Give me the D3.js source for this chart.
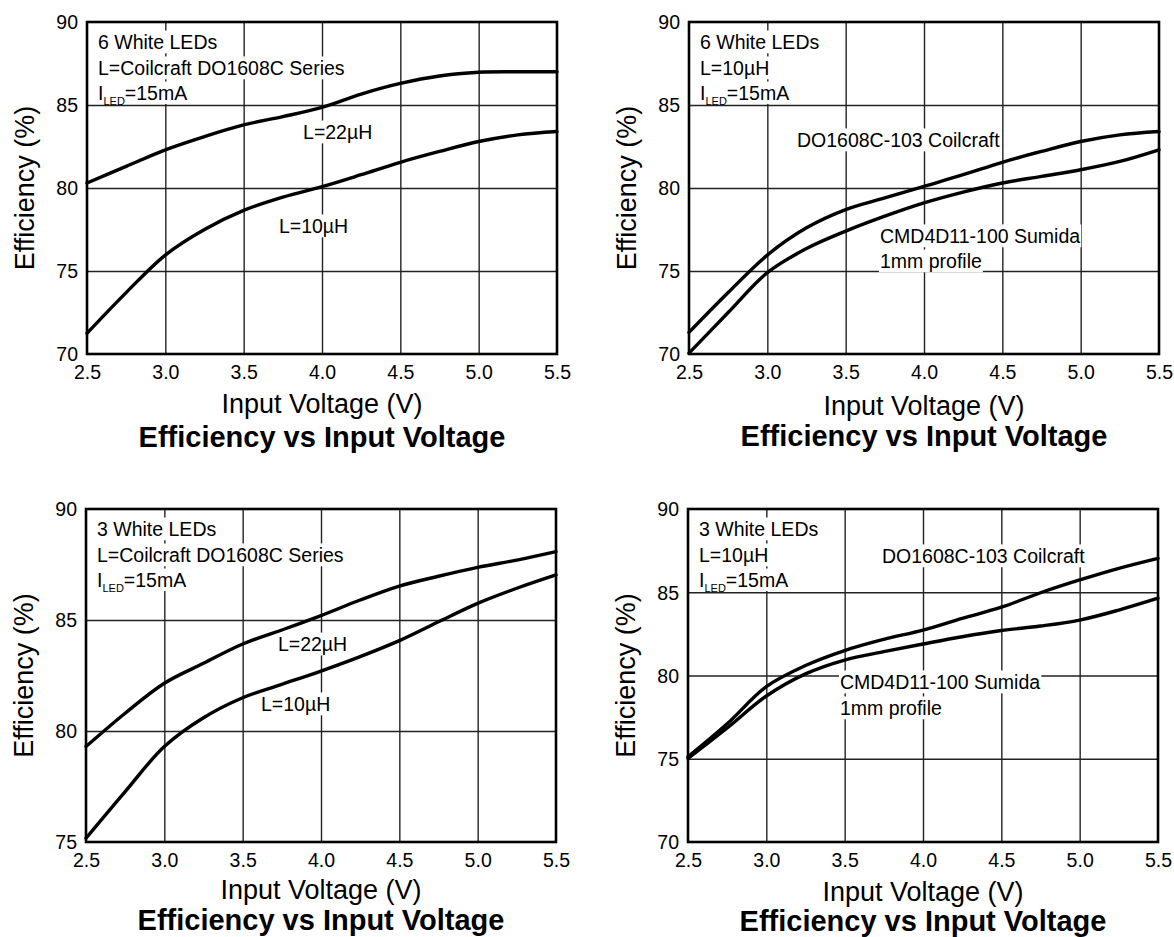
<!DOCTYPE html>
<html><head><meta charset="utf-8">
<script src="https://cdn.jsdelivr.net/npm/d3@7"></script>
<style>
body{margin:0;background:#fff;}
svg{display:block;}
text{font-family:"Liberation Sans", Arial, Helvetica, sans-serif; fill:#000;}
</style></head><body>
<svg id="c" width="1174" height="937"></svg>
<script>
// ---- data ----
const voltages = [2.5, 2.75, 3.0, 3.25, 3.5, 3.75, 4.0, 4.25, 4.5, 4.75, 5.0, 5.25, 5.5];
const xTicks = [2.5, 3.0, 3.5, 4.0, 4.5, 5.0, 5.5];
const yTicks70 = [70, 75, 80, 85, 90];
const yTicks75 = [75, 80, 85, 90];

// 6 white LEDs, Coilcraft DO1608C series
const eff6_L22 = [80.3, 81.3, 82.3, 83.1, 83.8, 84.3, 84.86, 85.66, 86.3, 86.75, 86.97, 87.0, 87.0];
const eff6_L10 = [71.25, 73.7, 75.96, 77.5, 78.65, 79.45, 80.08, 80.8, 81.55, 82.2, 82.8, 83.2, 83.4];
// 6 white LEDs, L=10uH
const eff6_coil = [71.3, 73.7, 75.96, 77.6, 78.7, 79.4, 80.1, 80.8, 81.55, 82.2, 82.8, 83.2, 83.4];
const eff6_sumida = [70.05, 72.5, 74.9, 76.35, 77.4, 78.3, 79.1, 79.75, 80.3, 80.7, 81.1, 81.6, 82.3];
// 3 white LEDs, Coilcraft DO1608C series
const eff3_L22 = [79.3, 80.8, 82.15, 83.05, 83.92, 84.55, 85.2, 85.9, 86.53, 86.97, 87.37, 87.7, 88.08];
const eff3_L10 = [75.17, 77.27, 79.3, 80.6, 81.5, 82.1, 82.7, 83.35, 84.07, 84.92, 85.75, 86.43, 87.03];
// 3 white LEDs, L=10uH
const eff3_coil = [75.12, 77.1, 79.33, 80.6, 81.5, 82.17, 82.73, 83.43, 84.1, 84.97, 85.74, 86.44, 87.04];
const eff3_sumida = [75.02, 76.85, 78.77, 80.1, 80.93, 81.43, 81.89, 82.33, 82.7, 82.97, 83.33, 83.93, 84.64];

const notesTL = ["6 White LEDs", "L=Coilcraft DO1608C Series"];
const notesTR = ["6 White LEDs", "L=10\u00B5H"];
const notesBL = ["3 White LEDs", "L=Coilcraft DO1608C Series"];
const notesBR = ["3 White LEDs", "L=10\u00B5H"];

const xLabel = "Input Voltage (V)";
const yLabel = "Efficiency (%)";
const titleText = "Efficiency vs Input Voltage";

// curve labels: [text, voltage, efficiency(baseline)]
const labelsTL = [["L=22\u00B5H", 3.879, 82.95], ["L=10\u00B5H", 3.725, 77.29]];
const labelsTR = [["DO1608C-103 Coilcraft", 3.189, 82.47], ["CMD4D11-100 Sumida", 3.719, 76.69], ["1mm profile", 3.719, 75.18]];
const labelsBL = [["L=22\u00B5H", 3.725, 83.6], ["L=10\u00B5H", 3.617, 80.9]];
const labelsBR = [["DO1608C-103 Coilcraft", 3.738, 86.76], ["CMD4D11-100 Sumida", 3.470, 79.19], ["1mm profile", 3.470, 77.63]];

// ---- layout ----
const panels = [
  {left: 87, right: 557, top: 22, bottom: 354, yDomain: [70, 90], yTicks: yTicks70,
   series: [eff6_L22, eff6_L10], notes: notesTL, labels: labelsTL, xlabDy: 59, titleDy: 93},
  {left: 689, right: 1159, top: 22, bottom: 354, yDomain: [70, 90], yTicks: yTicks70,
   series: [eff6_coil, eff6_sumida], notes: notesTR, labels: labelsTR, xlabDy: 61, titleDy: 92},
  {left: 86, right: 556, top: 509, bottom: 842, yDomain: [75, 90], yTicks: yTicks75,
   series: [eff3_L22, eff3_L10], notes: notesBL, labels: labelsBL, xlabDy: 57, titleDy: 88},
  {left: 688, right: 1158, top: 509, bottom: 842, yDomain: [70, 90], yTicks: yTicks70,
   series: [eff3_coil, eff3_sumida], notes: notesBR, labels: labelsBR, xlabDy: 58.5, titleDy: 88.5}
];

const svg = d3.select("#c");
svg.append("rect").attr("width", 1174).attr("height", 937).attr("fill", "#fff");

function maskedText(g, x, y, size, str) {
  const t = g.append("text").attr("x", x).attr("y", y).attr("font-size", size).text(str);
  const bb = t.node().getBBox();
  g.insert("rect", () => t.node())
    .attr("x", bb.x - 1).attr("y", y - size * 0.95)
    .attr("width", bb.width + 2).attr("height", size * 0.95 + 4.3)
    .attr("fill", "#fff");
  return t;
}

panels.forEach(p => {
  const x = d3.scaleLinear().domain([2.5, 5.5]).range([p.left, p.right]);
  const y = d3.scaleLinear().domain(p.yDomain).range([p.bottom, p.top]);
  const g = svg.append("g");
  const w = p.right - p.left, h = p.bottom - p.top;

  // grid
  g.append("g").attr("transform", `translate(0,${p.bottom})`)
    .call(d3.axisBottom(x).tickValues(xTicks.slice(1, -1)).tickSize(-h).tickFormat(""))
    .call(a => a.select(".domain").remove())
    .call(a => a.selectAll("line").attr("stroke", "#222").attr("stroke-width", 1.4));
  g.append("g").attr("transform", `translate(${p.left},0)`)
    .call(d3.axisLeft(y).tickValues(p.yTicks.slice(1, -1)).tickSize(-w).tickFormat(""))
    .call(a => a.select(".domain").remove())
    .call(a => a.selectAll("line").attr("stroke", "#222").attr("stroke-width", 1.4));

  // tick labels
  g.append("g").attr("transform", `translate(0,${p.bottom})`)
    .call(d3.axisBottom(x).tickValues(xTicks).tickSize(0).tickPadding(0).tickFormat(d3.format(".1f")))
    .call(a => a.select(".domain").remove())
    .call(a => a.selectAll("text").attr("font-size", 19.5).attr("font-family", null)
      .attr("dy", null).attr("y", 24.5).attr("fill", "#000"));
  g.append("g").attr("transform", `translate(${p.left},0)`)
    .call(d3.axisLeft(y).tickValues(p.yTicks).tickSize(0).tickPadding(9).tickFormat(d3.format("d")))
    .call(a => a.select(".domain").remove())
    .call(a => a.selectAll("text").attr("font-size", 19.5).attr("font-family", null)
      .attr("dy", "0.35em").attr("fill", "#000"));

  // annotation block
  const nx = p.left + 11;
  maskedText(g, nx, p.top + 27, 19.5, p.notes[0]);
  maskedText(g, nx, p.top + 53, 19.5, p.notes[1]);
  const t3 = g.append("text").attr("x", nx).attr("y", p.top + 78).attr("font-size", 19.5);
  t3.append("tspan").text("I");
  t3.append("tspan").attr("font-size", 11).attr("dy", 5).text("LED");
  t3.append("tspan").attr("dy", -5).text("=15mA");
  const bb3 = t3.node().getBBox();
  g.insert("rect", () => t3.node()).attr("x", bb3.x + 14).attr("y", p.top + 78 - 18.5)
    .attr("width", bb3.width - 13).attr("height", 22.5).attr("fill", "#fff");

  // curve labels
  p.labels.forEach(l => maskedText(g, x(l[1]), y(l[2]), 19.5, l[0]));

  // curves
  const line = d3.line().x((d, i) => x(voltages[i])).y(d => y(d)).curve(d3.curveCatmullRom.alpha(0.5));
  p.series.forEach(s => {
    g.append("path").datum(s).attr("d", line)
      .attr("fill", "none").attr("stroke", "#000").attr("stroke-width", 3.4)
      .attr("stroke-linecap", "round").attr("stroke-linejoin", "round");
  });

  // frame
  g.append("rect").attr("x", p.left).attr("y", p.top).attr("width", w).attr("height", h)
    .attr("fill", "none").attr("stroke", "#000").attr("stroke-width", 2.6);

  // axis titles
  const cx = (p.left + p.right) / 2, cy = (p.top + p.bottom) / 2;
  g.append("text").attr("x", cx).attr("y", p.bottom + p.xlabDy).attr("text-anchor", "middle")
    .attr("font-size", 27).text(xLabel);
  g.append("text").attr("transform", `translate(${p.left - 53},${cy}) rotate(-90)`)
    .attr("text-anchor", "middle").attr("font-size", 27).text(yLabel);
  g.append("text").attr("x", cx).attr("y", p.bottom + p.titleDy).attr("text-anchor", "middle")
    .attr("font-size", 29).attr("font-weight", "bold").text(titleText);
});
</script>
</body></html>
